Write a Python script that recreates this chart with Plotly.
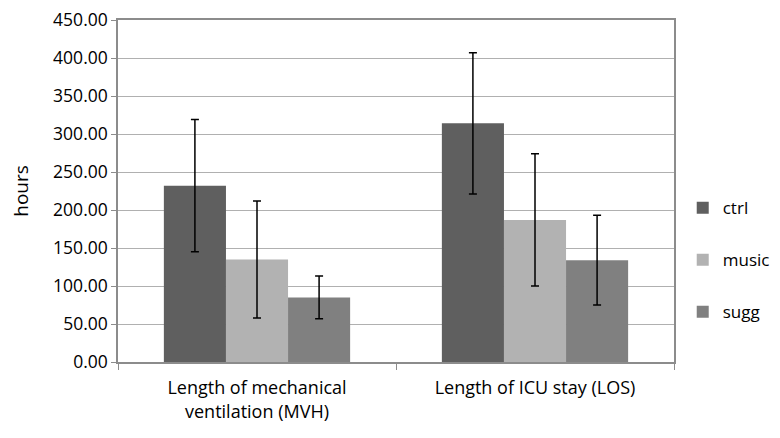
import plotly.graph_objects as go

categories = ["Length of mechanical<br>ventilation (MVH)", "Length of ICU stay (LOS)"]
series_names = ["ctrl", "music", "sugg"]
ctrl_vals = [232.0, 314.0]
ctrl_err = [87.0, 93.0]
music_vals = [135.0, 187.0]
music_err = [77.0, 87.0]
sugg_vals = [85.0, 134.0]
sugg_err = [28.0, 59.0]
y_ticks = [0, 50, 100, 150, 200, 250, 300, 350, 400, 450]

colors = ["#5f5f5f", "#b2b2b2", "#808080"]
vals = [ctrl_vals, music_vals, sugg_vals]
errs = [ctrl_err, music_err, sugg_err]

fig = go.Figure()
for name, v, e, c in zip(series_names, vals, errs, colors):
    fig.add_trace(go.Bar(
        x=categories, y=v, name=name, legendgroup=name,
        marker=dict(color=c, line=dict(width=0)),
        error_y=dict(type="data", array=e, visible=True, color="black",
                     thickness=1.5, width=4),
    ))

font_family = "'Open Sans', Lato, sans-serif"
fig.update_layout(
    width=772, height=430,
    margin=dict(l=110, r=106, t=12, b=76),
    paper_bgcolor="white", plot_bgcolor="white",
    barmode="group", bargap=0.33, bargroupgap=0,
    font=dict(family=font_family, size=17, color="black"),
    showlegend=True,
    legend=dict(xref="container", yref="paper", x=0.874, y=0.298,
                xanchor="left", yanchor="middle",
                tracegroupgap=27, font=dict(size=17), bgcolor="rgba(0,0,0,0)",
                itemwidth=30, traceorder="grouped"),
    xaxis=dict(
        showline=True, linecolor="#8c8c8c", linewidth=1.5, mirror=True,
        ticks="outside", tickson="boundaries", ticklen=6, tickcolor="#8c8c8c",
        tickfont=dict(size=18), showgrid=False, ticklabelstandoff=9,
        automargin=False, ticklabeloverflow="allow",
    ),
    yaxis=dict(
        range=[0, 450], tickvals=y_ticks, tickformat=".2f",
        showline=True, linecolor="#8c8c8c", linewidth=1.5, mirror=True,
        ticks="outside", ticklen=5, tickcolor="#8c8c8c",
        showgrid=True, gridcolor="#b0b0b0", gridwidth=1,
        tickfont=dict(size=17.5), ticklabeloverflow="allow",
        title=dict(text="hours", font=dict(size=19), standoff=22),
        zeroline=False, automargin=False,
    ),
)

fig.write_html("out.html")
